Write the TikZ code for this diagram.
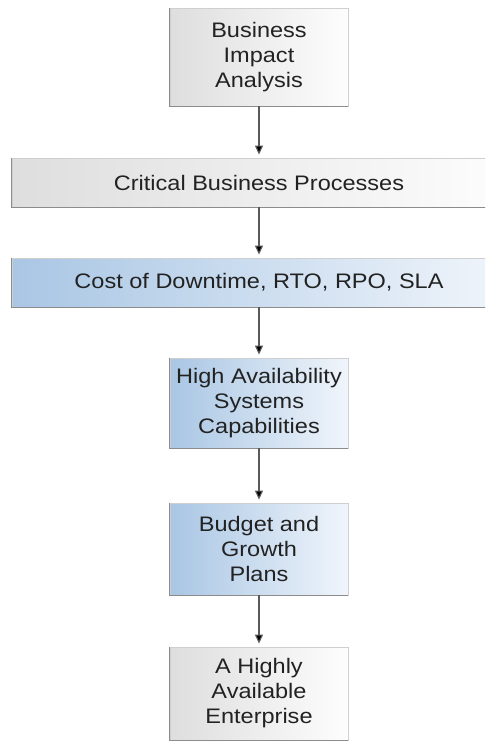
\documentclass[tikz,border=0pt]{standalone}
\usepackage{fontspec}
\setmainfont{Liberation Sans}[FakeStretch=1.12]
\usetikzlibrary{arrows.meta}
\definecolor{gl}{HTML}{DEDEDE}
\definecolor{gr}{HTML}{FDFDFD}
\definecolor{bl}{HTML}{A9C6E4}
\definecolor{br}{HTML}{F0F5FB}
\definecolor{frame}{HTML}{CFCFCF}
\definecolor{shade}{HTML}{8C8C8C}
\definecolor{txt}{HTML}{222222}
\definecolor{arrline}{HTML}{5A5A5A}
\begin{document}
\begin{tikzpicture}[x=1pt,y=-1pt,
  box/.style={draw=frame, line width=0.8pt, text=txt, font=\fontsize{21}{25}\selectfont,
    align=center, inner sep=0pt},
  graybox/.style={box, left color=gl, right color=gr},
  bluebox/.style={box, left color=bl, right color=br},
  shadowline/.style={draw=shade, line width=1.4pt},
  arr/.style={draw=arrline, line width=1.1pt, -{Triangle[length=9pt,width=8pt,fill=black]}}]
\useasboundingbox (0,0) rectangle (485,744);
\clip (0,0) rectangle (485,744);
\fill[white] (0,0) rectangle (485,744);
\node[graybox, minimum width=178pt, minimum height=98pt] (b1) at (259,57) {Business\\Impact\\Analysis};
\node[graybox, minimum width=494pt, minimum height=49pt] (b2) at (259,182.5) {Critical Business Processes};
\node[bluebox, minimum width=494pt, minimum height=49pt] (b3) at (259,282.5) {Cost of Downtime, RTO, RPO, SLA};
\node[bluebox, minimum width=178pt, minimum height=90pt] (b4) at (259,403) {High Availability\\Systems\\Capabilities};
\node[bluebox, minimum width=178pt, minimum height=92pt] (b5) at (259,549) {Budget and\\Growth\\Plans};
\node[graybox, minimum width=178pt, minimum height=93pt] (b6) at (259,693.5) {A Highly\\Available\\Enterprise};
\foreach \b in {b1,b2,b3,b4,b5,b6}{
  \draw[shadowline] (\b.north west) -- (\b.south west) -- (\b.south east);
}
\draw[arr] (b1.south) -- ([yshift=3pt]b2.north);
\draw[arr] (b2.south) -- ([yshift=3pt]b3.north);
\draw[arr] (b3.south) -- ([yshift=3pt]b4.north);
\draw[arr] (b4.south) -- ([yshift=3pt]b5.north);
\draw[arr] (b5.south) -- ([yshift=3pt]b6.north);
\end{tikzpicture}
\end{document}
